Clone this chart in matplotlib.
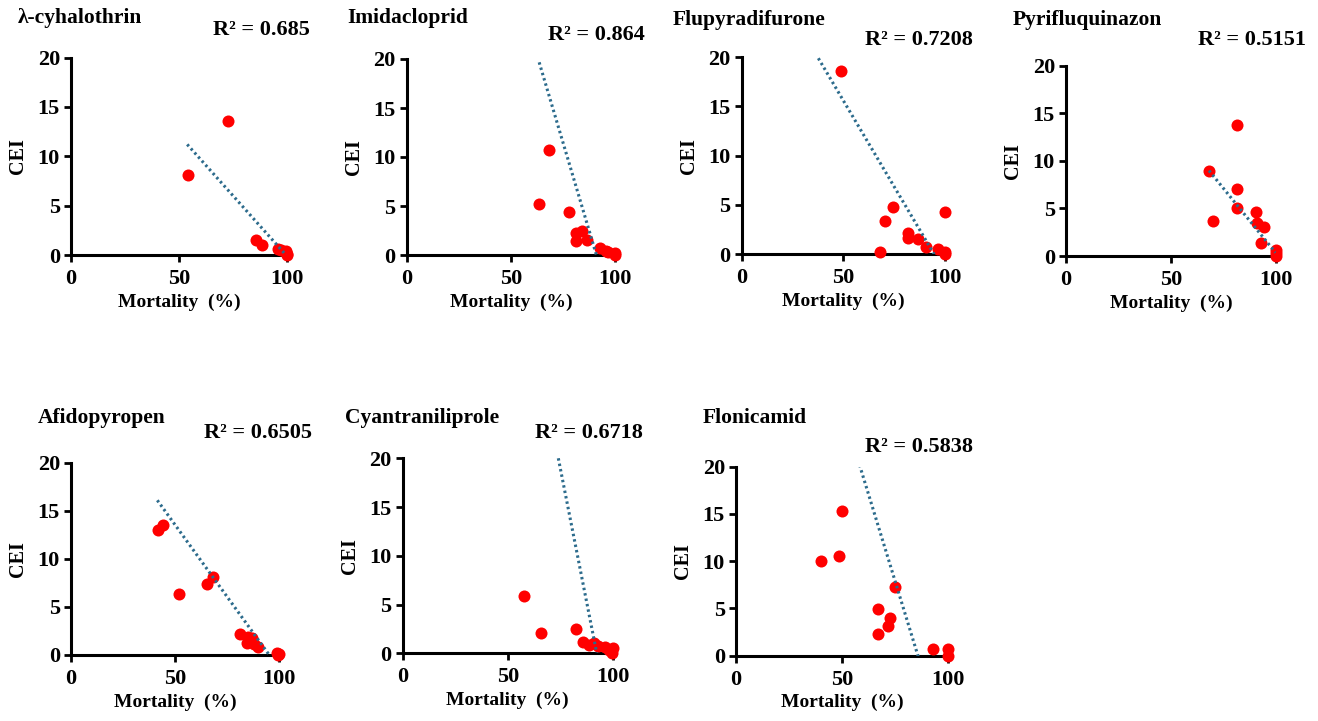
import numpy as np
import matplotlib
from matplotlib import pyplot as plt

matplotlib.use("Agg")

plt.rcParams["font.family"] = ["Liberation Serif", "DejaVu Serif"]
plt.rcParams["font.weight"] = "bold"

W, H = 1318, 721

# ---- data ----
names = ["λ-cyhalothrin", "Imidacloprid", "Flupyradifurone", "Pyrifluquinazon",
         "Afidopyropen", "Cyantraniliprole", "Flonicamid"]
r2_labels = ["0.685", "0.864", "0.7208", "0.5151", "0.6505", "0.6718", "0.5838"]

mort_cyh = [54.3, 72.8, 85.6, 88.3, 96.0, 97.0, 99.5, 100, 100]
cei_cyh = [8.15, 13.6, 1.5, 1.0, 0.6, 0.5, 0.4, 0.1, 0.0]

mort_imi = [63.6, 68.3, 77.9, 81.3, 84.2, 81.3, 86.4, 92.8, 95.9, 96.7, 100, 100]
cei_imi = [5.17, 10.7, 4.4, 2.28, 2.5, 1.46, 1.53, 0.68, 0.44, 0.3, 0.17, 0.05]

mort_flu = [48.8, 74.3, 70.5, 68.0, 82.0, 82.0, 86.6, 90.7, 96.4, 100, 100, 100]
cei_flu = [18.6, 4.8, 3.4, 0.24, 2.17, 1.6, 1.56, 0.74, 0.48, 4.3, 0.2, 0.05]

mort_pyr = [81.6, 68.1, 81.3, 81.3, 70.2, 90.5, 90.8, 94.3, 92.7, 99.8, 99.8, 99.8]
cei_pyr = [13.8, 8.9, 7.04, 5.07, 3.68, 4.59, 3.5, 3.01, 1.40, 0.63, 0.3, 0.0]

mort_afi = [42.0, 44.4, 52.1, 65.5, 68.4, 81.3, 84.5, 85.3, 87.2, 88.0, 90.1, 98.9, 100, 99.5]
cei_afi = [13.0, 13.5, 6.34, 7.38, 8.14, 2.18, 1.28, 1.84, 1.73, 1.14, 0.8, 0.18, 0.1, 0.0]

mort_cya = [57.9, 65.9, 82.4, 86.0, 88.9, 91.3, 93.2, 96.3, 98.4, 100, 99.8]
cei_cya = [5.88, 2.05, 2.46, 1.19, 0.85, 1.09, 0.75, 0.62, 0.34, 0.51, 0.05]

mort_flo = [40.0, 48.5, 50.1, 74.9, 67.0, 72.5, 71.7, 67.0, 92.9, 100, 100]
cei_flo = [10.0, 10.6, 15.3, 7.24, 4.94, 4.03, 3.14, 2.26, 0.74, 0.74, 0.0]

mortality = [mort_cyh, mort_imi, mort_flu, mort_pyr, mort_afi, mort_cya, mort_flo]
cei = [cei_cyh, cei_imi, cei_flu, cei_pyr, cei_afi, cei_cya, cei_flo]

# linear trend lines (slope, intercept, start of fitted range)
trend_slope = [-0.245, -0.716, -0.350, -0.272, -0.299, -1.093, -0.734]
trend_icpt = [24.38, 65.2, 33.1, 27.5, 28.5, 101.0, 62.9]
trend_from = [53.8, 63.6, 37.7, 68.1, 41.5, 57.9, 40.0]

# ---- layout in pixels: x at 0, x at 100, y top (20), y bottom (0) ----
boxes = [(71, 287, 57.5, 255), (406.7, 615, 59, 255), (741.7, 945, 57.3, 254),
         (1066, 1276, 65.7, 256), (71, 279, 462.7, 655), (402.7, 612.7, 458.3, 653.3),
         (736, 948.3, 466.7, 655.7)]
title_pos = [(18, 18), (347, 18), (673, 20), (1013, 20), (38, 418), (345, 418), (703, 418)]
r2_pos = [(310, 30), (645, 35), (973, 40), (1306, 40), (312, 433), (643, 433), (973, 447)]

fig = plt.figure(figsize=(W / 100, H / 100), dpi=100)

for i in range(len(names)):
    x0, x1, yt, yb = boxes[i]
    ax = fig.add_axes([x0 / W, 1 - yb / H, (x1 - x0) / W, (yb - yt) / H])
    ax.set_xlim(0, 100)
    ax.set_ylim(0, 20)

    ax.scatter(mortality[i], cei[i], s=75, color="#FF0000", clip_on=False, zorder=3,
               linewidths=0)

    xs = np.array([trend_from[i], max(mortality[i])])
    ax.plot(xs, trend_slope[i] * xs + trend_icpt[i], color="#2C6B8C", lw=2.2,
            linestyle=(0, (0.8, 1.0)), zorder=4)

    for side in ["top", "right"]:
        ax.spines[side].set_visible(False)
    for side in ["left", "bottom"]:
        ax.spines[side].set_linewidth(2.2)
        ax.spines[side].set_zorder(2)
    ax.set_xticks([0, 50, 100])
    ax.set_yticks([0, 5, 10, 15, 20])
    ax.tick_params(direction="out", length=5, width=2, labelsize=16)
    ax.tick_params(axis="x", pad=5)
    ax.tick_params(axis="y", pad=3)
    for lbl in ax.get_xticklabels() + ax.get_yticklabels():
        lbl.set_fontweight("bold")

    w_px, h_px = x1 - x0, yb - yt
    ax.set_xlabel("Mortality  (%)", fontsize=14, fontweight="bold")
    ax.xaxis.set_label_coords(0.5, -47 / h_px)
    ax.xaxis.label.set_va("center")
    ax.set_ylabel("CEI", fontsize=14.5, fontweight="bold")
    ax.yaxis.set_label_coords(-53 / w_px, 0.5)
    ax.yaxis.label.set_va("center")

    tx, ty = title_pos[i]
    fig.text(tx / W, 1 - ty / H, names[i], fontsize=15.5, fontweight="bold",
             ha="left", va="center")
    rx, ry = r2_pos[i]
    fig.text(rx / W, 1 - ry / H, "R² = " + r2_labels[i], fontsize=16,
             fontweight="bold", ha="right", va="center")

plt.savefig("out.png", dpi=100)
plt.close("all")
